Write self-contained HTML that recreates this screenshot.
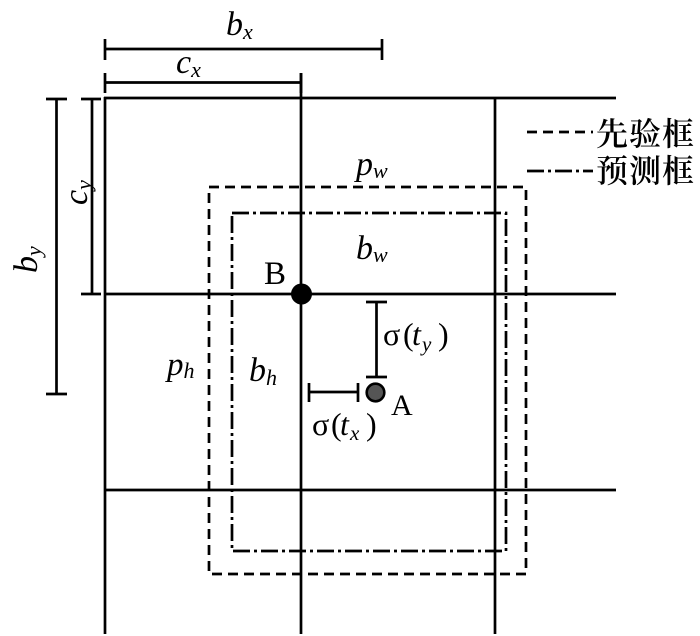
<!DOCTYPE html>
<html>
<head>
<meta charset="utf-8">
<style>
html,body{margin:0;padding:0;background:#fff;}
svg{display:block;}
.m{font-family:"Liberation Serif","DejaVu Serif",serif;font-style:italic;fill:#000;}
.r{font-family:"Liberation Serif","DejaVu Serif",serif;fill:#000;}
.cjk{font-family:"Liberation Serif","Noto Serif CJK SC","Noto Sans CJK SC",serif;fill:#000;font-weight:600;}
</style>
</head>
<body>
<svg width="700" height="636" viewBox="0 0 700 636" xmlns="http://www.w3.org/2000/svg">
<g stroke="#000" stroke-width="2.7" fill="none">
  <line x1="104" y1="98" x2="616" y2="98"/>
  <line x1="104" y1="294" x2="616" y2="294"/>
  <line x1="104" y1="490" x2="616" y2="490"/>
  <line x1="105" y1="97" x2="105" y2="634"/>
  <line x1="301" y1="73" x2="301" y2="634"/>
  <line x1="495" y1="97" x2="495" y2="634"/>

  <line x1="105" y1="49" x2="382" y2="49"/>
  <line x1="105" y1="39" x2="105" y2="60"/>
  <line x1="382" y1="39" x2="382" y2="60"/>
  <line x1="105" y1="82.5" x2="301" y2="82.5"/>
  <line x1="105" y1="73" x2="105" y2="93"/>
  <line x1="301" y1="73" x2="301" y2="93"/>
  <line x1="56.5" y1="99" x2="56.5" y2="394"/>
  <line x1="46" y1="99" x2="67" y2="99"/>
  <line x1="46" y1="394" x2="67" y2="394"/>
  <line x1="92" y1="99" x2="92" y2="294"/>
  <line x1="81" y1="99" x2="101" y2="99"/>
  <line x1="81" y1="294" x2="101" y2="294"/>

  <rect x="209" y="187" width="317" height="387" stroke-dasharray="10,6"/>
  <rect x="232" y="213" width="274" height="338" stroke-dasharray="17,4,3,4"/>

  <line x1="376.5" y1="302" x2="376.5" y2="377"/>
  <line x1="366" y1="302" x2="387" y2="302"/>
  <line x1="366" y1="377" x2="387" y2="377"/>
  <line x1="309" y1="392" x2="358" y2="392"/>
  <line x1="309" y1="383" x2="309" y2="402"/>
  <line x1="358" y1="383" x2="358" y2="402"/>

  <line x1="527" y1="132" x2="593" y2="132" stroke-dasharray="10,6"/>
  <line x1="527" y1="171" x2="593" y2="171" stroke-dasharray="17,4,3,4"/>
</g>

<circle cx="301.5" cy="294" r="10.5" fill="#000"/>
<circle cx="375.5" cy="392.5" r="8.8" fill="#555" stroke="#000" stroke-width="2.6"/>

<text class="m" x="226" y="35" font-size="34">b<tspan font-size="22" dy="4">x</tspan></text>
<text class="m" x="176" y="73" font-size="34">c<tspan font-size="22" dy="4">x</tspan></text>
<text class="m" transform="translate(37,273) rotate(-90)" font-size="34">b<tspan font-size="22" dy="4">y</tspan></text>
<text class="m" transform="translate(87,205) rotate(-90)" font-size="34">c<tspan font-size="22" dy="4">y</tspan></text>

<text class="m" x="356" y="175" font-size="34">p<tspan font-size="22" dy="3">w</tspan></text>
<text class="m" x="356" y="259" font-size="34">b<tspan font-size="22" dy="3">w</tspan></text>
<text class="m" x="167" y="375" font-size="33">p<tspan font-size="22" dy="3">h</tspan></text>
<text class="m" x="249" y="381" font-size="34">b<tspan font-size="22" dy="4">h</tspan></text>

<text class="r" x="264" y="284" font-size="33">B</text>
<text class="r" x="391" y="415" font-size="30">A</text>

<text class="r" x="383" y="345" font-size="32">σ</text>
<text class="r" x="403" y="345" font-size="32">(</text>
<text class="m" x="412" y="345" font-size="32">t</text>
<text class="m" x="422" y="351" font-size="21">y</text>
<text class="r" x="438" y="345" font-size="32">)</text>

<text class="r" x="312" y="435" font-size="32">σ</text>
<text class="r" x="331" y="435" font-size="32">(</text>
<text class="m" x="340" y="435" font-size="32">t</text>
<text class="m" x="350" y="440" font-size="21">x</text>
<text class="r" x="366" y="435" font-size="32">)</text>

<text class="cjk" x="596" y="145" font-size="32" letter-spacing="1">先验框</text>
<text class="cjk" x="596" y="182" font-size="32" letter-spacing="1">预测框</text>
</svg>
</body>
</html>
